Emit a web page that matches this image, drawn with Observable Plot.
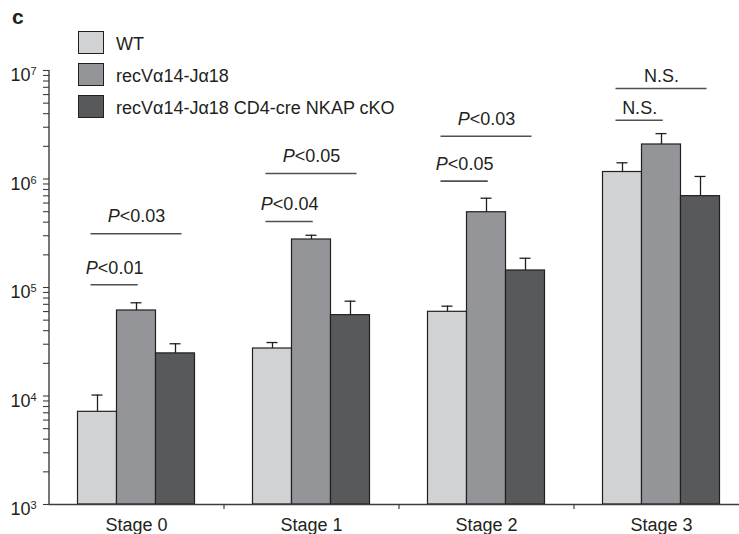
<!DOCTYPE html>
<html>
<head>
<meta charset="utf-8">
<script src="https://cdn.jsdelivr.net/npm/d3@7"></script>
<script src="https://cdn.jsdelivr.net/npm/@observablehq/plot@0.6"></script>
<style>
  html, body { margin: 0; padding: 0; background: white; }
  #wrap { position: relative; width: 739px; height: 534px; overflow: hidden;
          font-family: "Liberation Sans", Arial, Helvetica, sans-serif; color: #231f20; }
  #panel { position: absolute; left: 12px; top: 5px; font-size: 21px; font-weight: bold; }
  .lg-box { position: absolute; left: 78px; width: 26px; height: 23px; border: 1.3px solid #231f20; box-sizing: border-box; }
  .lg-text { position: absolute; left: 116px; font-size: 18px; line-height: 22px; white-space: nowrap; }
</style>
</head>
<body>
<div id="wrap">
  <div id="chart"></div>
  <div id="panel">c</div>
  <div id="legend"></div>
</div>
<script>
// ---- data ----
const stages = ["Stage 0", "Stage 1", "Stage 2", "Stage 3"];
const series = ["WT", "recVα14-Jα18", "recVα14-Jα18 CD4-cre NKAP cKO"];
const seriesColors = ["#d1d2d4", "#939598", "#58595b"];

const wtMean  = [7150, 27400, 59700, 1160000];
const wtErr   = [10200, 31100, 67300, 1410000];
const recMean = [61400, 277000, 494000, 2080000];
const recErr  = [72300, 303000, 665000, 2620000];
const ckoMean = [24700, 55600, 143500, 695000];
const ckoErr  = [30300, 74800, 186000, 1055000];

const sigStage = [0, 0, 1, 1, 2, 2, 3, 3];
const sigSpan  = ["short", "long", "short", "long", "short", "long", "short", "long"];
const sigValue = [106000, 313000, 406000, 1125000, 955000, 2480000, 3480000, 6820000];
const sigLabel = ["P<0.01", "P<0.03", "P<0.04", "P<0.05", "P<0.05", "P<0.03", "N.S.", "N.S."];

const yExponents = [3, 4, 5, 6, 7];

// ---- derived tables ----
const means = [wtMean, recMean, ckoMean];
const errs = [wtErr, recErr, ckoErr];
const barW = 39 / 175;
const capHalf = 5.5 / 175;
const rows = [];
stages.forEach((st, i) => {
  series.forEach((s, j) => {
    const x1 = i + (j - 1.5) * barW;
    rows.push({ stage: st, series: s, x1, x2: x1 + barW, cx: x1 + barW / 2, value: means[j][i], err: errs[j][i] });
  });
});
const sig = sigStage.map((s, k) => {
  const x1 = s - 0.26;
  const x2 = sigSpan[k] === "short" ? s + 0.01 : s + 0.26;
  return { x1, x2, xm: (x1 + x2) / 2, y: sigValue[k], label: sigLabel[k] };
});
const yTicks = [];
for (let e = 3; e < 7; e++) for (let m = 1; m <= 9; m++) yTicks.push(m * 10 ** e);
yTicks.push(1e7);

const ink = "#231f20";
const axisInk = "#3d3d3d";
const font = "Liberation Sans, Arial, Helvetica, sans-serif";

const chart = Plot.plot({
  width: 739,
  height: 534,
  marginLeft: 49,
  marginRight: 0,
  marginTop: 70,
  marginBottom: 30,
  style: { fontFamily: font, fontSize: "18px", color: ink, background: "white" },
  x: { type: "linear", domain: [-0.5, 3.5], range: [48.5, 748.5], axis: null },
  y: { type: "log", domain: [1e3, 1e7], axis: null },
  color: { domain: series, range: seriesColors },
  marks: [
    Plot.rect(rows, { x1: "x1", x2: "x2", y1: 1e3, y2: "value", fill: "series", stroke: ink, strokeWidth: 1.2 }),
    Plot.ruleX(rows, { x: "cx", y1: "value", y2: "err", stroke: ink, strokeWidth: 1.3 }),
    Plot.ruleY(rows, { y: "err", x1: d => d.cx - capHalf, x2: d => d.cx + capHalf, stroke: ink, strokeWidth: 1.3 }),
    Plot.ruleY(sig, { y: "y", x1: "x1", x2: "x2", stroke: "#505052", strokeWidth: 1.6 }),
    Plot.text(sig.filter(d => d.label.startsWith("P")), { x: "xm", y: "y", text: "label", dy: -17, fontSize: 18, fill: ink }),
    Plot.text(sig.filter(d => !d.label.startsWith("P")), { x: "xm", y: "y", text: "label", dy: -12, fontSize: 18, fill: ink }),
    Plot.ruleY([1e3], { stroke: axisInk, strokeWidth: 1.4 }),
    Plot.ruleX([-0.5], { y1: 1e3, y2: 1e7, stroke: axisInk, strokeWidth: 1.4 }),
    Plot.axisY(yTicks, { anchor: "left", tickSize: 6, tickFormat: () => "", label: null, stroke: axisInk, strokeWidth: 1.1 }),
    Plot.axisX([0.5, 1.5, 2.5], { anchor: "bottom", tickSize: 5, tickFormat: () => "", label: null, stroke: axisInk, strokeWidth: 1.2 }),
    Plot.axisX([0, 1, 2, 3], { anchor: "bottom", tickSize: 0, tickPadding: 14, tickFormat: i => stages[i], label: null, fontSize: 18, fill: ink }),
    Plot.text(yExponents, { y: d => 10 ** d, text: () => "10", frameAnchor: "left", textAnchor: "end", dx: -19, dy: 5, fontSize: 18, fill: ink }),
    Plot.text(yExponents, { y: d => 10 ** d, text: d => String(d), frameAnchor: "left", textAnchor: "start", dx: -19, dy: 1, fontSize: 11, fill: ink })
  ]
});

// italic P in significance labels
chart.querySelectorAll("text").forEach(t => {
  const s = t.textContent;
  if (s.startsWith("P<")) {
    while (t.firstChild) t.removeChild(t.firstChild);
    const it = document.createElementNS("http://www.w3.org/2000/svg", "tspan");
    it.setAttribute("font-style", "italic");
    it.textContent = "P";
    t.appendChild(it);
    t.appendChild(document.createTextNode(s.slice(1)));
  }
});
document.getElementById("chart").appendChild(chart);

// legend
const legend = document.getElementById("legend");
const rowTops = [31, 63, 95];
series.forEach((s, j) => {
  const b = document.createElement("div");
  b.className = "lg-box";
  b.style.top = rowTops[j] + "px";
  b.style.background = seriesColors[j];
  legend.appendChild(b);
  const t = document.createElement("div");
  t.className = "lg-text";
  t.style.top = (rowTops[j] + 2) + "px";
  t.textContent = s;
  legend.appendChild(t);
});
</script>
</body>
</html>
